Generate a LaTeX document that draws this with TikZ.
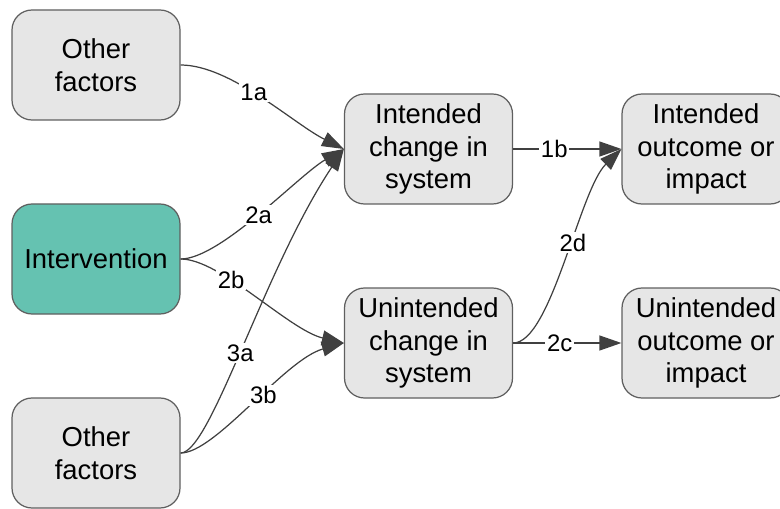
\documentclass[tikz,border=0pt]{standalone}
\usepackage{fontspec}
\setmainfont{Liberation Sans}
\usetikzlibrary{arrows.meta}
\definecolor{boxgray}{RGB}{230,230,230}
\definecolor{boxline}{RGB}{95,95,95}
\definecolor{linkgray}{RGB}{64,64,64}
\definecolor{teal}{RGB}{101,194,177}
\begin{document}
\begin{tikzpicture}[
  box/.style={draw=boxline,fill=boxgray,line width=0.7pt,rounded corners=0.4cm,minimum width=3.36cm,minimum height=2.2cm,inner sep=0,align=center,font=\fontsize{15.6}{18.7}\selectfont},
  arr/.style={line width=0.7pt,draw=linkgray,-{Triangle[length=0.44cm,width=0.3cm]}},
  lbl/.style={fill=white,inner sep=1pt,font=\fontsize{13.6}{16}\selectfont}
  ]
  \useasboundingbox (0,0) rectangle (15.6,10.16);
  % 
  % Nodes
  % 
  \node(of1)   [box]            at (1.92, 8.86){Other\\factors};
  \node(interv)[box,fill=teal]  at (1.92, 4.98){Intervention};
  \node(of2)   [box]            at (1.92, 1.10){Other\\factors};
  \node(ichg)  [box]            at (8.57, 7.18){Intended\\change in\\system};
  \node(uchg)  [box]            at (8.57, 3.30){Unintended\\change in\\system};
  \node(iout)  [box]            at (14.12,7.18){Intended\\outcome or\\impact};
  \node(uout)  [box]            at (14.12,3.30){Unintended\\outcome or\\impact};
  % 
  % Arrows
  % 
  % of1 -> ichg
  \draw[arr] (of1.east) .. controls +(1.0,0) and +(-1.0,0.5) .. (ichg.west) node[lbl,pos=0.45]{1a};
  % interv -> ichg
  \draw[arr] (interv.east) .. controls +(0.8,0) and +(-0.9,-0.52) .. (ichg.west) node[lbl,pos=0.49]{2a};
  % of2 -> ichg
  \draw[arr] (of2.east) .. controls +(0.6,0) and +(-1.6,-2.4) .. (ichg.west) node[lbl,pos=0.48]{3a};
  % interv -> uchg
  \draw[arr] (interv.east) .. controls +(0.8,0) and +(-1.1,0.26) .. (uchg.west) node[lbl,pos=0.35]{2b};
  % of2 -> uchg
  \draw[arr] (of2.east) .. controls +(0.7,0) and +(-1.2,-0.34) .. (uchg.west) node[lbl,pos=0.56]{3b};
  % ichg -> iout
  \draw[arr] (ichg.east) -- (iout.west) node[lbl,pos=0.38]{1b};
  % uchg -> uout
  \draw[arr] (uchg.east) -- (uout.west) node[lbl,pos=0.43]{2c};
  % uchg -> iout
  \draw[arr] (uchg.east) .. controls +(0.76,0) and +(-0.84,-0.82) .. (iout.west) node[lbl,pos=0.57]{2d};
\end{tikzpicture}
\end{document}
